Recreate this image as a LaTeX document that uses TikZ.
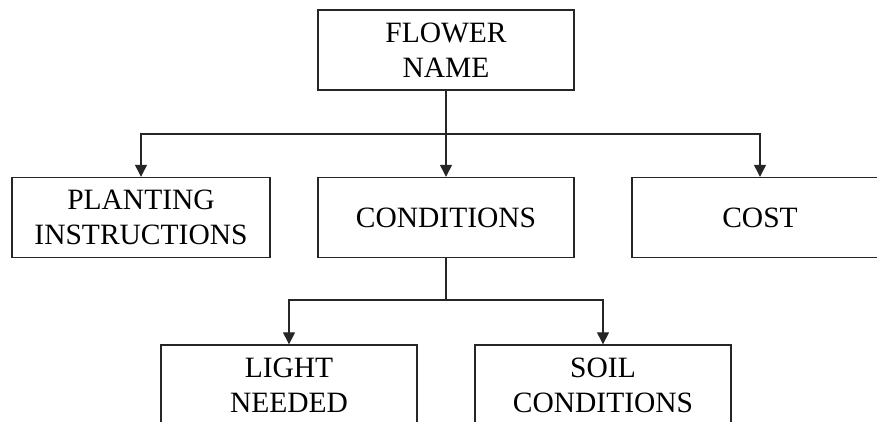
\documentclass[tikz,border=0pt]{standalone}
\usepackage{fontspec}
\setmainfont{Liberation Serif}
\usetikzlibrary{arrows.meta}
\begin{document}
\begin{tikzpicture}[x=1pt,y=-1pt,
  box/.style={draw=black!85, line width=1.4pt, rectangle, align=center,
    minimum width=256pt, minimum height=80pt, inner sep=0pt,
    font=\fontsize{29.5}{35}\selectfont},
  conn/.style={draw=black!85, line width=1.3pt},
  arr/.style={conn, -{Triangle[width=12pt,length=12pt]}}]
\useasboundingbox (0,0) rectangle (877,422);
\clip (0,0) rectangle (877,422);
\node[box] (top) at (446,50) {FLOWER\\NAME};
\node[box, minimum width=258pt] (plant) at (141,217.5) {PLANTING\\INSTRUCTIONS};
\node[box] (cond) at (446,217.5) {CONDITIONS};
\node[box] (cost) at (760,217.5) {COST};
\node[box] (light) at (289,385) {LIGHT\\NEEDED};
\node[box] (soil) at (603,385) {SOIL\\CONDITIONS};
\coordinate (j1) at (446,134);
\coordinate (j2) at (446,300);
\draw[conn] (top.south) -- (j1);
\draw[arr] (j1) -| (plant.north);
\draw[arr] (j1) -- (cond.north);
\draw[arr] (j1) -| (cost.north);
\draw[conn] (cond.south) -- (j2);
\draw[arr] (j2) -| (light.north);
\draw[arr] (j2) -| (soil.north);
\end{tikzpicture}
\end{document}
